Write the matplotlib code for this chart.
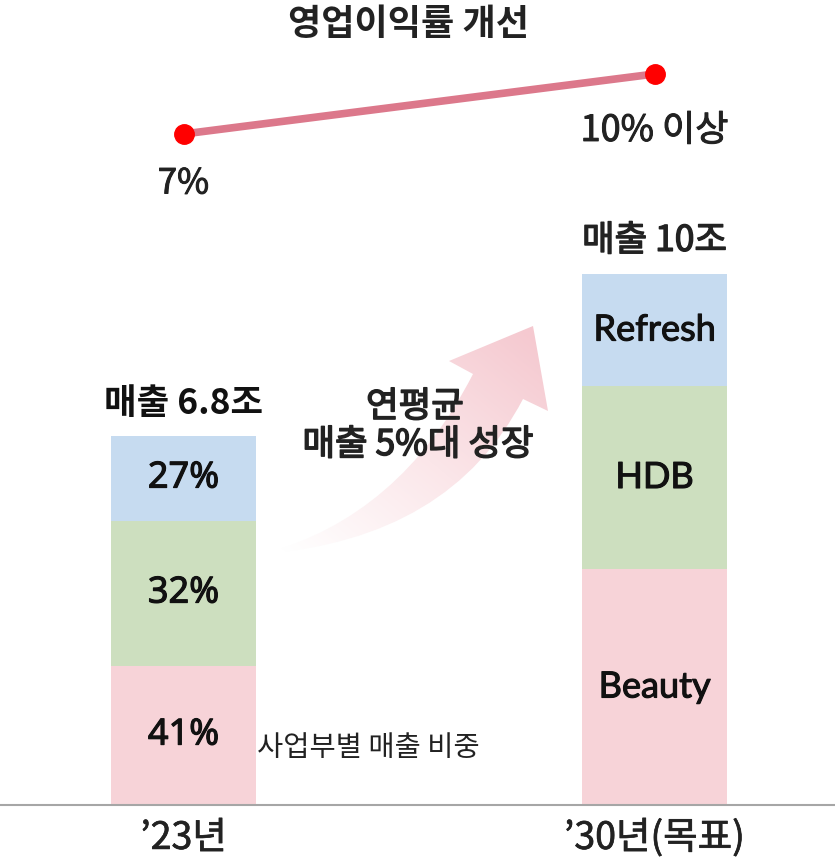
import numpy as np
import matplotlib
matplotlib.use("Agg")
import matplotlib.pyplot as plt
import matplotlib.patheffects as pe
from matplotlib.path import Path
from matplotlib.patches import PathPatch
from matplotlib.colors import LinearSegmentedColormap

plt.rcParams['font.family'] = ['Noto Sans CJK KR', 'DejaVu Sans']

# ---- data ----
years = ['\u201923년', '\u201930년(목표)']
segments = ['Beauty', 'HDB', 'Refresh']
seg_values = {
    'Beauty':  [2.57, 4.37],
    'HDB':     [2.69, 3.39],
    'Refresh': [1.57, 2.07],
}
seg_colors = {'Beauty': '#f7d3d8', 'HDB': '#cddfbf', 'Refresh': '#c6dbf0'}
share_labels_23 = ['41%', '32%', '27%']
total_labels = ['매출 6.8조', '매출 10조']
margin = [7, 10]
margin_labels = ['7%', '10% 이상']


def med(color, w=0.8):
    return [pe.withStroke(linewidth=w, foreground=color)]


W, H = 835, 862
fig = plt.figure(figsize=(W / 100, H / 100), dpi=100)

# geometry (pixels)
cx = [183.5, 654.5]
px_per_x = cx[1] - cx[0]
base_px = 806
px_per_unit = 54.0
xlim = (-cx[0] / px_per_x, (W - cx[0]) / px_per_x)

ax = fig.add_axes([0, (H - base_px) / H, 1, base_px / H])
ax.set_xlim(*xlim)
ax.set_ylim(0, base_px / px_per_unit)
for s in ['top', 'right', 'left']:
    ax.spines[s].set_visible(False)
ax.spines['bottom'].set_color('#a6a6a6')
ax.spines['bottom'].set_linewidth(1.5)
ax.set_yticks([])
ax.set_xticks([0, 1])
ax.set_xticklabels(years, fontsize=27, color='#222222')
for t in ax.get_xticklabels():
    t.set_path_effects(med('#222222', 0.5))
ax.tick_params(axis='x', length=0, pad=10)

x = np.arange(len(years))
width = 145 / px_per_x
bottom = np.zeros(len(years))
for seg in segments:
    vals = np.array(seg_values[seg])
    ax.bar(x, vals, width, bottom=bottom, color=seg_colors[seg], zorder=2)
    for i in range(len(years)):
        mid = bottom[i] + vals[i] / 2
        if i == 0:
            lab = share_labels_23[segments.index(seg)]
            ax.text(x[i], mid, lab, ha='center', va='center', fontsize=26,
                    color='#111111', family=['Noto Sans', 'DejaVu Sans'], zorder=4,
                    path_effects=med('#111111'))
        else:
            ax.text(x[i], mid, seg, ha='center', va='center', fontsize=26,
                    color='#111111', family=['Lato', 'DejaVu Sans'], zorder=4,
                    path_effects=med('#111111'))
    bottom = bottom + vals

for i in range(len(years)):
    ax.annotate(total_labels[i], (x[i], bottom[i]), xytext=(0, 24),
                textcoords='offset points', ha='center', va='center',
                fontsize=25.5, fontweight='bold' if i == 0 else 'normal',
                color='#111111' if i == 0 else '#222222',
                path_effects=None if i == 0 else med('#222222', 1.0))

ax.text(257 / px_per_x + xlim[0], (base_px - 748) / px_per_unit, '사업부별 매출 비중',
        ha='left', va='center', fontsize=20.5, color='#222222', zorder=4)

# ---- overlay in pixel coordinates for the arrow ----
axp = fig.add_axes([0, 0, 1, 1])
axp.set_xlim(0, W)
axp.set_ylim(H, 0)
axp.axis('off')
axp.set_zorder(ax.get_zorder() + 1)
axp.patch.set_alpha(0)

verts = [(263, 555), (400, 518), (473, 375), (449, 362), (533, 327), (548, 412),
         (523, 400), (450, 540), (263, 555), (263, 555)]
codes = [Path.MOVETO, Path.CURVE3, Path.CURVE3, Path.LINETO, Path.LINETO, Path.LINETO,
         Path.LINETO, Path.CURVE3, Path.CURVE3, Path.CLOSEPOLY]
arrow_path = Path(verts, codes)
patch = PathPatch(arrow_path, facecolor='none', edgecolor='none')
axp.add_patch(patch)
gx, gy = np.meshgrid(np.linspace(0, 1, 200), np.linspace(0, 1, 200))
grad = (gx + (1 - gy)) / 2
cmap = LinearSegmentedColormap.from_list('g', ['#ffffff', '#fbe6e9', '#f5c9d0'])
im = axp.imshow(grad, extent=(263, 550, 560, 325), origin='upper', cmap=cmap,
                vmin=0.05, vmax=0.95, aspect='auto', zorder=1)
im.set_clip_path(patch)

axp.text(415, 408, '연평균', ha='center', va='center', fontsize=25.5,
         color='#222222', zorder=3, path_effects=med('#222222', 1.1))
axp.text(418, 446, '매출 5%대 성장', ha='center', va='center', fontsize=25.5,
         color='#222222', zorder=3, path_effects=med('#222222', 1.1))

# ---- operating margin line ----
axl = fig.add_axes([0, 0, 1, 1])
axl.set_xlim(*xlim)
px_per_pct = 20.0
y0_px = 135 + 7 * px_per_pct
axl.set_ylim((y0_px - H) / px_per_pct, y0_px / px_per_pct)
axl.axis('off')
axl.patch.set_alpha(0)
axl.plot(x, margin, color='#dc788b', lw=5.5, solid_capstyle='butt', zorder=2)
axl.plot(x, margin, 'o', color='#ff0000', ms=14, zorder=3)
axl.annotate(margin_labels[0], (x[0], margin[0]), xytext=(0, -36), textcoords='offset points',
             ha='center', va='center', fontsize=25, color='#222222',
             path_effects=med('#222222', 0.7))
axl.annotate(margin_labels[1], (x[1], margin[1]), xytext=(0, -41), textcoords='offset points',
             ha='center', va='center', fontsize=26, color='#222222',
             path_effects=med('#222222', 0.7))
fig.text(408 / W, 1 - 25 / H, '영업이익률 개선', ha='center', va='center', fontsize=26,
         fontweight='bold', color='#222222')

fig.savefig('out.png', dpi=100)
